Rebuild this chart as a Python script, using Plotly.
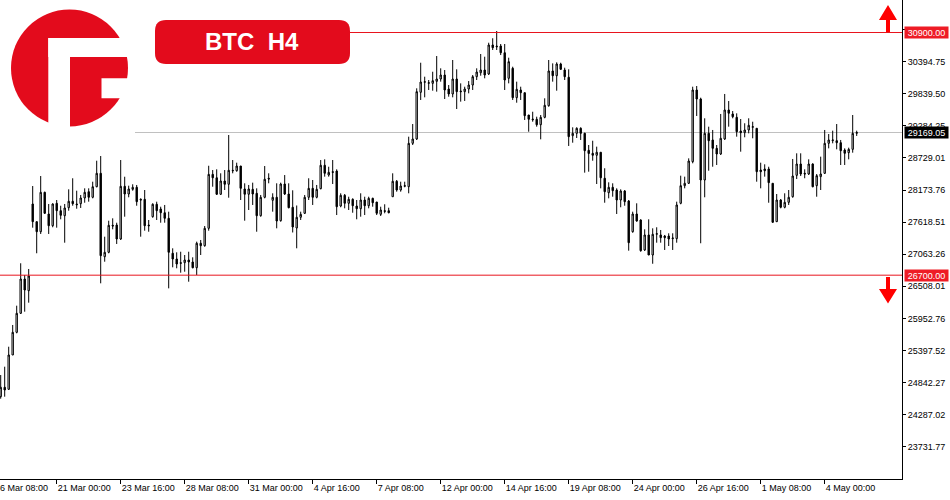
import plotly.graph_objects as go

# ---------------- data (BTC H4 candles) ----------------
opens = [
    24597, 24760, 24725, 25319, 25711, 26040, 26634, 26431, 27932, 27626,
    27452, 28134, 27759, 27556, 27944, 27816, 27729, 27868, 27979, 27932,
    27937, 28036, 28145, 28048, 28231, 28463, 27020, 27096, 27563, 27568,
    27326, 28238, 28105, 28186, 28221, 28013, 28013, 27568, 27712, 27927,
    27845, 27781, 27684, 27079, 26980, 26916, 26916, 26963, 26928, 26829,
    27252, 27210, 27511, 28445, 28386, 28100, 28330, 28273, 28515, 28508,
    28589, 28192, 28100, 28186, 28117, 27729, 28048, 28377, 27996, 28048,
    27643, 28278, 28105, 27875, 27517, 27702, 27771, 28048, 28203, 28048,
    28197, 28602, 28434, 28491, 28503, 27897, 28082, 27944, 28013, 27897,
    27850, 28001, 27902, 28030, 27966, 27753, 27816, 27816, 28058, 28325,
    28174, 28238, 28231, 28982, 29057, 29865, 30038, 30020, 30020, 30055,
    30095, 30164, 29922, 29836, 30095, 29888, 29876, 29922, 29991, 30135,
    30204, 30251, 30182, 30684, 30666, 30666, 30550, 30107, 30280, 29772,
    29905, 29858, 29472, 29403, 29398, 29304, 29432, 29633, 30234, 30152,
    30355, 30251, 30125, 29114, 29155, 29242, 29155, 28861, 28809, 28775,
    28827, 28377, 28127, 28221, 28174, 28001, 28157, 27984, 27452, 27759,
    27655, 27136, 27396, 27049, 27408, 27396, 27378, 27378, 27332, 27332,
    27944, 28249, 28290, 28664, 29905, 29749, 28347, 29155, 29040, 28895,
    28797, 29057, 29559, 29490, 29432, 29195, 29166, 29213, 29259, 29242,
    28520, 28538, 28538, 28290, 27626, 28001, 27875, 27961, 28058, 28428,
    28624, 28463, 28451, 28624, 28249, 28405, 28463, 28982, 29028, 29028,
    28993, 28866, 28820, 28878, 29155,
]
highs = [
    24972, 25116, 25462, 25838, 26172, 26906, 26703, 26807, 28243, 27626,
    28416, 28145, 27932, 27944, 28001, 27902, 27932, 28186, 28377, 28162,
    28088, 28203, 28203, 28318, 28681, 28762, 27366, 27643, 27684, 27608,
    28693, 28404, 28249, 28273, 28261, 28030, 28174, 27655, 27944, 27972,
    27885, 27915, 27799, 27165, 27096, 27106, 27049, 27106, 27009, 27280,
    27309, 27551, 28594, 28520, 28532, 28463, 28520, 29126, 28693, 28647,
    28589, 28290, 28261, 28301, 28203, 28088, 28589, 28463, 28117, 28290,
    28301, 28433, 28290, 28169, 27906, 27799, 28088, 28377, 28347, 28261,
    28693, 28705, 28577, 28693, 28532, 28117, 28105, 28058, 28030, 28001,
    28117, 28058, 28058, 28041, 27966, 27885, 27927, 27868, 28463, 28347,
    28318, 28318, 29097, 29316, 29934, 30377, 30135, 30078, 30221, 30493,
    30280, 30251, 29991, 30424, 30263, 30020, 29962, 30060, 30164, 30280,
    30528, 30481, 30723, 30800, 30926, 30701, 30701, 30464, 30308, 30049,
    29962, 29858, 29472, 29529, 29443, 29472, 29761, 30424, 30366, 30384,
    30377, 30291, 30263, 29259, 29259, 29259, 29166, 28953, 29027, 28924,
    28827, 28550, 28307, 28290, 28203, 28186, 28174, 28001, 27799, 27944,
    27667, 27494, 27667, 27511, 27529, 27482, 27396, 27425, 27425, 27972,
    28422, 28405, 28722, 29962, 29974, 29772, 29415, 29270, 29213, 28953,
    29490, 29836, 29714, 29541, 29501, 29403, 29329, 29415, 29356, 29242,
    28647, 28619, 28577, 28290, 28105, 28018, 28117, 28174, 28711, 28809,
    28809, 28532, 28705, 28636, 28451, 28751, 29213, 29143, 29201, 29316,
    29040, 28895, 28907, 29472, 29201,
]
lows = [
    24562, 24597, 24713, 25319, 25694, 26030, 26068, 26224, 27522, 27079,
    27413, 27759, 27413, 27529, 27522, 27667, 27262, 27816, 27902, 27850,
    27863, 27954, 27972, 28030, 28221, 26559, 26933, 27079, 27494, 27240,
    27309, 27712, 28048, 28162, 27902, 27366, 27470, 27452, 27695, 27655,
    27608, 27608, 26472, 26836, 26819, 26743, 26760, 26587, 26819, 26703,
    27049, 27193, 27470, 28231, 28088, 28088, 28174, 28041, 28463, 28491,
    28001, 27643, 27828, 27915, 27452, 27712, 28030, 28290, 27799, 27511,
    27626, 28088, 27857, 27439, 27165, 27655, 27759, 28001, 27915, 28030,
    28186, 28405, 28405, 28278, 27741, 27875, 27857, 27828, 27781, 27667,
    27712, 27741, 27857, 27885, 27741, 27724, 27771, 27771, 28058, 28145,
    28145, 28221, 28117, 28953, 29040, 29732, 29778, 29905, 29893, 29876,
    30049, 29749, 29789, 29778, 29576, 29703, 29715, 29847, 29905, 30078,
    30152, 30107, 30164, 30597, 30597, 30510, 29905, 30020, 29732, 29685,
    29732, 29386, 29183, 29356, 29270, 29051, 29415, 29616, 30049, 29893,
    30251, 30078, 28936, 28993, 29074, 29040, 28474, 28491, 28681, 28278,
    28203, 27954, 28030, 28058, 27759, 27875, 27902, 27124, 27435, 27626,
    27106, 27118, 27049, 26898, 27262, 27262, 27136, 27205, 27136, 27262,
    27927, 28203, 28278, 28636, 29455, 27252, 28048, 28508, 28577, 28607,
    28780, 29040, 29270, 29415, 29097, 28837, 29086, 29155, 29069, 28318,
    28203, 28405, 27954, 27608, 27620, 27857, 27857, 27915, 28041, 28364,
    28416, 28377, 28434, 28221, 28058, 28174, 28451, 28895, 28982, 28878,
    28607, 28607, 28705, 28820, 29109,
]
closes = [
    24760, 24713, 25319, 25711, 26040, 26634, 26443, 26686, 27626, 27452,
    28134, 27771, 27556, 27932, 27816, 27736, 27863, 27979, 27937, 27920,
    28036, 28134, 28048, 28231, 28463, 27037, 27096, 27563, 27551, 27326,
    28238, 28105, 28192, 28221, 27972, 28001, 27556, 27556, 27927, 27816,
    27781, 27684, 27096, 26980, 26893, 26906, 26963, 26928, 26829, 27252,
    27210, 27511, 28445, 28386, 28100, 28330, 28273, 28515, 28508, 28589,
    28203, 28100, 28192, 28105, 27729, 28048, 28360, 28365, 28048, 27637,
    28278, 28105, 27868, 27534, 27702, 27753, 28048, 28203, 28048, 28186,
    28602, 28463, 28480, 28480, 27885, 28082, 27944, 28013, 27902, 27850,
    28001, 27902, 28030, 27954, 27771, 27828, 27805, 27781, 28325, 28174,
    28243, 28249, 28982, 29057, 29876, 30043, 30048, 30031, 30066, 30095,
    30164, 29905, 29836, 30095, 29876, 29876, 29922, 29991, 30135, 30216,
    30251, 30164, 30684, 30637, 30654, 30550, 30078, 30395, 29772, 29917,
    29858, 29460, 29398, 29391, 29304, 29432, 29640, 30234, 30152, 30355,
    30263, 30135, 29097, 29155, 29242, 29155, 28854, 28806, 28775, 28827,
    28386, 28145, 28221, 28162, 28001, 28157, 27972, 27262, 27759, 27637,
    27124, 27396, 27049, 27408, 27418, 27349, 27349, 27326, 27343, 27915,
    28249, 28290, 28676, 29905, 29749, 28347, 29155, 29027, 28895, 28797,
    29069, 29559, 29502, 29443, 29183, 29166, 29213, 29294, 29270, 28491,
    28491, 28508, 28301, 27615, 28001, 27875, 27961, 28048, 28416, 28624,
    28451, 28451, 28624, 28231, 28422, 28451, 28982, 29040, 29040, 28993,
    28854, 28809, 28878, 29155, 29169.05,
]
bar_index = list(range(len(closes)))

# time-axis labels (bar index -> label)
time_label_bars = [14, 30, 46, 62, 78, 94, 110, 126, 142, 158, 174, 190, 206]
time_labels = ["21 Mar 00:00", "23 Mar 16:00", "28 Mar 08:00", "31 Mar 00:00",
               "4 Apr 16:00", "7 Apr 08:00", "12 Apr 00:00", "14 Apr 16:00",
               "19 Apr 08:00", "24 Apr 00:00", "26 Apr 16:00", "1 May 08:00",
               "4 May 00:00"]
cut_label_bar = -2
cut_label = "16 Mar 08:00"

price_ticks = [30950.00, 30394.75, 29839.50, 29284.25, 28729.01, 28173.76,
               27618.51, 27063.26, 26508.01, 25952.76, 25397.52, 24842.27,
               24287.02, 23731.77]
resistance = 30900.00
support = 26700.00
last_price = 29169.05
title_text = "BTC\u00a0\u00a0H4"

# ---------------- layout geometry ----------------
W, H = 950, 500
ML, MR, MT, MB = 0, 48, 0, 21
PW, PH = W - ML - MR, H - MT - MB
X_RANGE = [-0.175, 225.325]
Y_RANGE = [23172.4, 31462.5]

def px(x):
    return (x - ML) / PW

def py(y):
    return 1 - (y - MT) / PH

RED = "#e30b1c"
FONT = "Liberation Sans"

fig = go.Figure()
fig.add_trace(go.Candlestick(
    x=bar_index, open=opens, high=highs, low=lows, close=closes,
    increasing=dict(fillcolor="white", line=dict(color="black", width=1)),
    decreasing=dict(fillcolor="black", line=dict(color="black", width=1)),
    whiskerwidth=0, showlegend=False, hoverinfo="skip",
))

shapes = []
# horizontal levels
shapes.append(dict(type="line", xref="paper", yref="y", x0=px(345), x1=1,
                   y0=resistance, y1=resistance,
                   line=dict(color="#e8141e", width=1), layer="above"))
shapes.append(dict(type="line", xref="paper", yref="y", x0=0, x1=1,
                   y0=support, y1=support,
                   line=dict(color="#e8141e", width=1), layer="above"))
shapes.append(dict(type="line", xref="paper", yref="y", x0=px(135), x1=1,
                   y0=last_price, y1=last_price,
                   line=dict(color="#c0c0c0", width=1), layer="below"))

# logo: red disc with white cuts
cx, cy, r = 69.5, 68, 58.5
shapes.append(dict(type="circle", xref="paper", yref="paper",
                   x0=px(cx - r), x1=px(cx + r), y0=py(cy + r), y1=py(cy - r),
                   fillcolor=RED, line=dict(width=0), layer="above"))
for (x0, y0, x1, y1) in [(48.3, 38, 135, 57), (48.3, 38, 70, 135), (101.5, 78.3, 135, 98.3)]:
    shapes.append(dict(type="rect", xref="paper", yref="paper",
                       x0=px(x0), x1=px(x1), y0=py(y1), y1=py(y0),
                       fillcolor="white", line=dict(width=0), layer="above"))

def poly(points):
    return "M " + " L ".join(f"{px(x):.6f},{py(y):.6f}" for x, y in points) + " Z"

def rrect(x0, y0, x1, y1, rr):
    def p(x, y):
        return f"{px(x):.6f},{py(y):.6f}"
    return (f"M {p(x0 + rr, y0)} L {p(x1 - rr, y0)} Q {p(x1, y0)} {p(x1, y0 + rr)} "
            f"L {p(x1, y1 - rr)} Q {p(x1, y1)} {p(x1 - rr, y1)} "
            f"L {p(x0 + rr, y1)} Q {p(x0, y1)} {p(x0, y1 - rr)} "
            f"L {p(x0, y0 + rr)} Q {p(x0, y0)} {p(x0 + rr, y0)} Z")

# title badge
shapes.append(dict(type="path", xref="paper", yref="paper",
                   path=rrect(155, 20, 350, 64, 11),
                   fillcolor=RED, line=dict(width=0), layer="above"))

# arrows
up = [(888, 5), (897, 20), (890, 20), (890, 32), (886, 32), (886, 20), (879, 20)]
down = [(886, 277), (890, 277), (890, 289), (897, 289), (888, 303.5), (879, 289), (886, 289)]
for pts in (up, down):
    shapes.append(dict(type="path", xref="paper", yref="paper", path=poly(pts),
                       fillcolor="#ff0000", line=dict(width=0), layer="above"))

annotations = [
    dict(xref="paper", yref="paper", x=px(252.5), y=py(42), text=title_text,
         showarrow=False, xanchor="center", yanchor="middle",
         font=dict(family=FONT, size=24, color="white", weight="bold")),
    dict(xref="paper", yref="paper", x=px(cut_label_bar * 4 + 0.7 + 0.5), y=0,
         text=cut_label, showarrow=False, xanchor="left", yanchor="top", yshift=-2,
         font=dict(family=FONT, size=9, color="black")),
]
for val, bg in [(resistance, "#ee1c25"), (support, "#ee1c25"), (last_price, "black")]:
    annotations.append(dict(
        xref="paper", yref="y", x=px(904), y=val, text=f"{val:.2f}",
        showarrow=False, xanchor="left", yanchor="middle",
        width=43, height=11, bgcolor=bg, borderpad=0,
        font=dict(family=FONT, size=9, color="white")))

fig.update_layout(
    width=W, height=H, margin=dict(l=ML, r=MR, t=MT, b=MB, autoexpand=False),
    paper_bgcolor="white", plot_bgcolor="white",
    boxgap=0.5, shapes=shapes, annotations=annotations, showlegend=False,
)
fig.update_xaxes(
    range=X_RANGE, rangeslider=dict(visible=False), showgrid=False, zeroline=False,
    tickmode="array", tickvals=time_label_bars, ticktext=time_labels,
    ticks="outside", ticklen=4, tickwidth=1, tickcolor="black",
    showline=True, linecolor="black", linewidth=1,
    ticklabelposition="outside right",
    tickfont=dict(family=FONT, size=9, color="black"),
)
fig.update_yaxes(
    range=Y_RANGE, side="right", showgrid=False, zeroline=False,
    tickmode="array", tickvals=price_ticks, ticktext=[f"{v:.2f}" for v in price_ticks],
    ticks="outside", ticklen=3, tickwidth=1, tickcolor="black",
    showline=True, linecolor="black", linewidth=1,
    tickfont=dict(family=FONT, size=9, color="black"),
)

fig.write_html(
    "out.html",
    config={"displayModeBar": False},
    post_script="document.body.style.margin='0px';document.body.style.overflow='hidden';",
)
